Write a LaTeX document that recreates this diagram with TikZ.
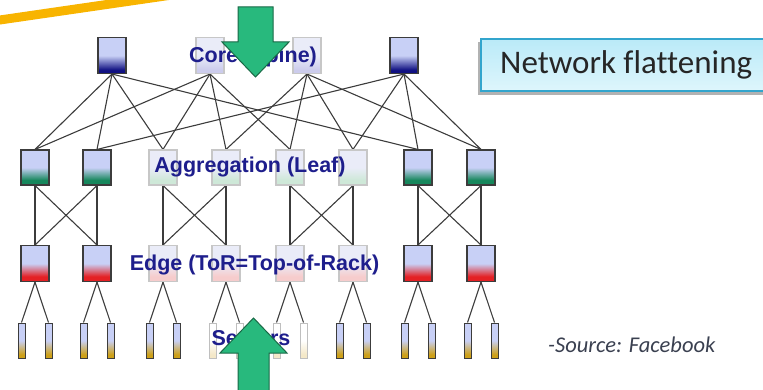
\documentclass[tikz,border=0pt]{standalone}
\usepackage{fontspec}
\setmainfont{Liberation Sans}
\newfontfamily\calfont[Ligatures=NoCommon]{Carlito}
\usetikzlibrary{shadows,backgrounds}
\definecolor{lav}{RGB}{200,208,246}
\definecolor{navy}{RGB}{16,16,130}
\definecolor{grn}{RGB}{22,135,92}
\definecolor{rd}{RGB}{228,32,36}
\definecolor{gold}{RGB}{205,160,25}
\definecolor{lavf}{RGB}{234,236,248}
\definecolor{navyf}{RGB}{204,204,236}
\definecolor{grnf}{RGB}{206,232,216}
\definecolor{rdf}{RGB}{246,204,204}
\definecolor{goldf}{RGB}{244,232,200}
\definecolor{txtblue}{RGB}{30,30,140}
\definecolor{lnk}{RGB}{60,60,60}
\definecolor{arrgreen}{RGB}{40,185,125}
\definecolor{arrdark}{RGB}{25,105,70}
\definecolor{yel}{RGB}{248,180,0}
\definecolor{boxfill}{RGB}{200,240,250}
\definecolor{boxfilltop}{RGB}{186,234,248}
\definecolor{boxborder}{RGB}{50,165,205}
\definecolor{srcgray}{RGB}{58,64,80}
\pgfdeclareverticalshading{coreshade}{100bp}{color(0bp)=(navy); color(30bp)=(navy); color(50bp)=(lav); color(100bp)=(lav)}
\pgfdeclareverticalshading{coreshadef}{100bp}{color(0bp)=(navyf); color(30bp)=(navyf); color(50bp)=(lavf); color(100bp)=(lavf)}
\pgfdeclareverticalshading{aggshade}{100bp}{color(0bp)=(grn); color(32bp)=(grn); color(50bp)=(lav); color(100bp)=(lav)}
\pgfdeclareverticalshading{aggshadef}{100bp}{color(0bp)=(grnf); color(32bp)=(grnf); color(50bp)=(lavf); color(100bp)=(lavf)}
\pgfdeclareverticalshading{edgeshade}{100bp}{color(0bp)=(rd); color(32bp)=(rd); color(50bp)=(lav); color(100bp)=(lav)}
\pgfdeclareverticalshading{edgeshadef}{100bp}{color(0bp)=(rdf); color(32bp)=(rdf); color(50bp)=(lavf); color(100bp)=(lavf)}
\pgfdeclareverticalshading{srvshade}{100bp}{color(0bp)=(gold); color(30bp)=(gold); color(50bp)=(lav); color(100bp)=(lav)}
\pgfdeclareverticalshading{srvshadef}{100bp}{color(0bp)=(goldf); color(30bp)=(goldf); color(50bp)=(white); color(100bp)=(white)}
\tikzset{
  sw/.style={rectangle, minimum width=28pt, minimum height=36pt, inner sep=0pt, draw=lnk, line width=1.1pt},
  swf/.style={sw, draw=black!22},
  core/.style={sw, shading=coreshade},
  coref/.style={swf, shading=coreshadef},
  agg/.style={sw, minimum height=35pt, shading=aggshade},
  aggf/.style={swf, minimum height=35pt, shading=aggshadef},
  edg/.style={sw, shading=edgeshade},
  edgf/.style={swf, shading=edgeshadef},
  srv/.style={rectangle, minimum width=7pt, minimum height=35pt, inner sep=0pt, draw=lnk, line width=1pt, shading=srvshade},
  srvf/.style={srv, draw=black!25, shading=srvshadef},
  link/.style={draw=lnk, line width=1.1pt},
  lbl/.style={text=txtblue, font=\fontsize{21.5}{24}\selectfont\bfseries, inner sep=0pt},
  bigarrow/.style={fill=arrgreen, draw=arrdark, line width=1pt, line join=miter}
}
\begin{document}
\begin{tikzpicture}[x=1pt, y=-1pt]
\useasboundingbox (0,0) rectangle (763,390);
\clip (0,0) rectangle (763,390);
% yellow stroke
\draw[yel, line width=9pt] (-5,20.7) -- (172,-5);
% core
\node[core] (c1) at (112,55.5) {};
\node[coref] (c2) at (210,55.5) {};
\node[coref] (c3) at (307,55.5) {};
\node[core] (c4) at (404,55.5) {};
% aggregation
\foreach \i/\x/\s in {1/35/agg,2/97/agg,3/163/aggf,4/226/aggf,5/290/aggf,6/353/aggf,7/418/agg,8/481/agg}{
  \node[\s] (a\i) at (\x,167.5) {};
}
% edge
\foreach \i/\x/\s in {1/35/edg,2/97/edg,3/163/edgf,4/226/edgf,5/290/edgf,6/353/edgf,7/418/edg,8/481/edg}{
  \node[\s] (e\i) at (\x,263.5) {};
}
% servers
\foreach \i/\x/\s in {1/35/srv,2/97/srv,3/163/srv,4/226/srvf,5/290/srvf,6/353/srv,7/418/srv,8/481/srv}{
  \node[\s] (s\i a) at (\x-13.5,340.5) {};
  \node[\s] (s\i b) at (\x+13.5,340.5) {};
}
% links
\begin{scope}[on background layer]
\foreach \c/\a in {1/1,1/2,1/3,1/7,2/1,2/3,2/4,2/5,3/4,3/5,3/6,3/8,4/2,4/6,4/7,4/8}{
  \draw[link] (c\c.south) -- (a\a.north);
}
\foreach \p/\q in {1/2,3/4,5/6,7/8}{
  \draw[link] (a\p.south) -- (e\p.north);
  \draw[link] (a\p.south) -- (e\q.north);
  \draw[link] (a\q.south) -- (e\p.north);
  \draw[link] (a\q.south) -- (e\q.north);
}
\foreach \i in {1,...,8}{
  \draw[link] (e\i.south) -- (s\i a.north);
  \draw[link] (e\i.south) -- (s\i b.north);
}
\end{scope}
% labels
\node[lbl] (lcore) at (253,57) {Core (Spine)};
\node[lbl] (lagg) at (250,167) {Aggregation (Leaf)};
\node[lbl] (ledge) at (254.5,265) {Edge (ToR=Top-of-Rack)};
\node[lbl] (lsrv) at (251,338) {Servers};
% big arrows
\draw[bigarrow] (238,7) -- (273,7) -- (273,42) -- (289,42) -- (255.5,77) -- (222,42) -- (238,42) -- cycle;
\draw[bigarrow] (253.5,318) -- (287,353) -- (269,353) -- (269,395) -- (238,395) -- (238,353) -- (220,353) -- cycle;
% network flattening box
\path[fill=black!30] (478,42) rectangle (800,95);
\shade[top color=boxfilltop, bottom color=boxfill!60!white, draw=boxborder, line width=2.5pt] (481,39) rectangle (800,91);
\node[anchor=west, inner sep=0pt, text=black!85, font=\calfont\fontsize{33}{36}\selectfont] (nf) at (500,65) {Network flattening};
% source
\node[anchor=west, inner sep=0pt, text=srcgray, font=\calfont\itshape\fontsize{22.5}{25}\selectfont] (src) at (548,345) {-Source: Facebook};
\end{tikzpicture}
\end{document}
